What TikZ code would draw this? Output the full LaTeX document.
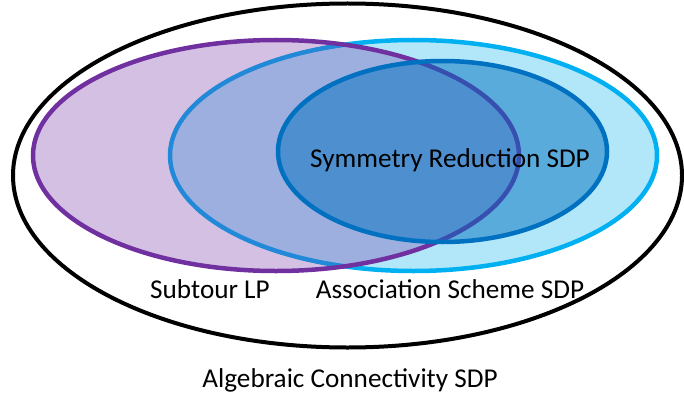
\documentclass[tikz,border=0pt]{standalone}
\usepackage{fontspec}
\setmainfont{Carlito}
\usepackage{xcolor}
\usepackage{tikz}
\definecolor{setpurple}{HTML}{7030A0}
\definecolor{setcyan}{HTML}{00B0F0}
\definecolor{setblue}{HTML}{0070C0}
\tikzstyle{setline} = [line width=4.5pt, fill opacity=0.3]
\tikzstyle{label}   = [inner sep=0pt, text=black, font=\fontsize{27.2}{31}\selectfont]

\begin{document}
\begin{tikzpicture}[x=1pt, y=-1pt]
  \useasboundingbox (0,0) rectangle (684,401);

  % Algebraic Connectivity SDP
  \draw[line width=4pt, black] (347.5,175.5) ellipse [x radius=334.5, y radius=172];

  % Association Scheme SDP
  \filldraw[setline, draw=setcyan, fill=setcyan] (413.5,155.5) ellipse [x radius=243.5, y radius=115.5];

  % Subtour LP
  \filldraw[setline, draw=setpurple, fill=setpurple] (276,155.5) ellipse [x radius=243, y radius=115.5];

  % Symmetry Reduction SDP
  \filldraw[setline, draw=setblue, fill=setblue, fill opacity=0.5] (442.5,151.5) ellipse [x radius=164.5, y radius=90.5];

  % Labels
  \node[label, anchor=base] (symred) at (450,167) {Symmetry Reduction SDP};
  \node[label, anchor=base] (subtour) at (210,298) {Subtour LP};
  \node[label, anchor=base] (assoc) at (450,298) {Association Scheme SDP};
  \node[label, anchor=base] (algconn) at (350,387) {Algebraic Connectivity SDP};

\end{tikzpicture}
\end{document}
